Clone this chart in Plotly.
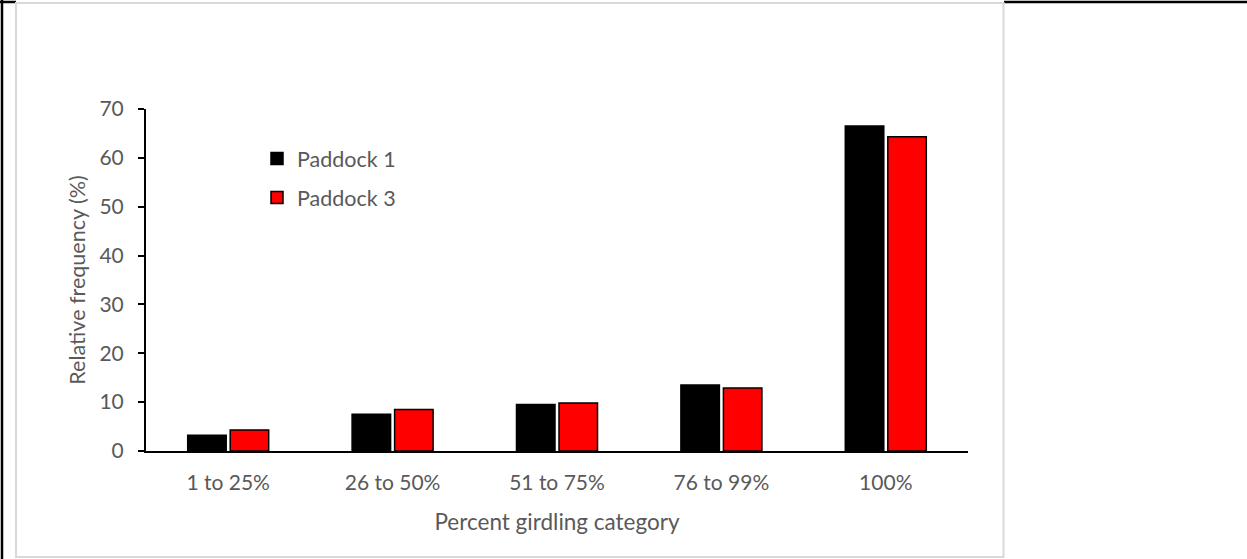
import plotly.graph_objects as go

categories = ["1 to 25%", "26 to 50%", "51 to 75%", "76 to 99%", "100%"]
paddock1 = [3.2, 7.5, 9.5, 13.5, 66.5]
paddock3 = [4.3, 8.5, 9.8, 12.9, 64.3]
series_names = ["Paddock 1", "Paddock 3"]
y_ticks = [0, 10, 20, 30, 40, 50, 60, 70]

W, H = 1247, 559
ML, MR, MT, MB = 146, 279, 109, 108
PW, PH = W - ML - MR, H - MT - MB

def px_x(p):
    return (p - ML) / PW

def px_y(p):
    return 1 - (p - MT) / PH

FONT = "Lato"
GREY = "#595959"
FS = 21
FT = 22.5
FL = 21.5

fig = go.Figure()
fig.add_trace(go.Bar(x=categories, y=paddock1, name=series_names[0],
                     marker=dict(color="#000000", line=dict(color="#000000", width=1.5)),
                     legendgroup="a"))
fig.add_trace(go.Bar(x=categories, y=paddock3, name=series_names[1],
                     marker=dict(color="#ff0000", line=dict(color="#000000", width=1.5)),
                     legendgroup="b"))

shapes = [
    dict(type="line", xref="paper", yref="paper", x0=px_x(2), x1=px_x(2), y0=px_y(0), y1=px_y(559),
         line=dict(color="#000000", width=2.5)),
    dict(type="line", xref="paper", yref="paper", x0=px_x(0), x1=px_x(16), y0=px_y(2), y1=px_y(2),
         line=dict(color="#000000", width=2.5)),
    dict(type="line", xref="paper", yref="paper", x0=px_x(1004), x1=px_x(1247), y0=px_y(2), y1=px_y(2),
         line=dict(color="#000000", width=2.5)),
    dict(type="rect", xref="paper", yref="paper", x0=px_x(16), x1=px_x(1003.5), y0=px_y(557), y1=px_y(3),
         line=dict(color="#d9d9d9", width=2)),
]

fig.update_layout(
    width=W, height=H,
    margin=dict(l=ML, r=MR, t=MT, b=MB, autoexpand=False),
    paper_bgcolor="white", plot_bgcolor="white",
    barmode="group", bargap=0.483, bargroupgap=0.094,
    font=dict(family=FONT, size=FS, color=GREY),
    showlegend=True,
    legend=dict(x=px_x(257), y=px_y(138), xanchor="left", yanchor="top",
                bgcolor="rgba(0,0,0,0)", borderwidth=0,
                font=dict(family=FONT, size=FL, color=GREY),
                traceorder="grouped", tracegroupgap=8, itemwidth=30),
    shapes=shapes,
    xaxis=dict(
        type="category", range=[-0.5, 4.5],
        showline=True, linecolor="#000000", linewidth=2,
        ticks="", showgrid=False, zeroline=False,
        ticklabelstandoff=12,
        tickfont=dict(family=FONT, size=FS, color=GREY),
        title=dict(text="Percent girdling category", standoff=21,
                   font=dict(family=FONT, size=FT, color=GREY)),
    ),
    yaxis=dict(
        range=[0, 70], tickvals=y_ticks,
        showline=True, linecolor="#000000", linewidth=2,
        ticks="outside", ticklen=6, tickwidth=2, tickcolor="#000000",
        showgrid=False, zeroline=False,
        ticklabelstandoff=10,
        tickfont=dict(family=FONT, size=FS, color=GREY),
        title=dict(text="Relative frequency (%)", standoff=8,
                   font=dict(family=FONT, size=21.5, color=GREY)),
    ),
)

fig.write_html("out.html")
